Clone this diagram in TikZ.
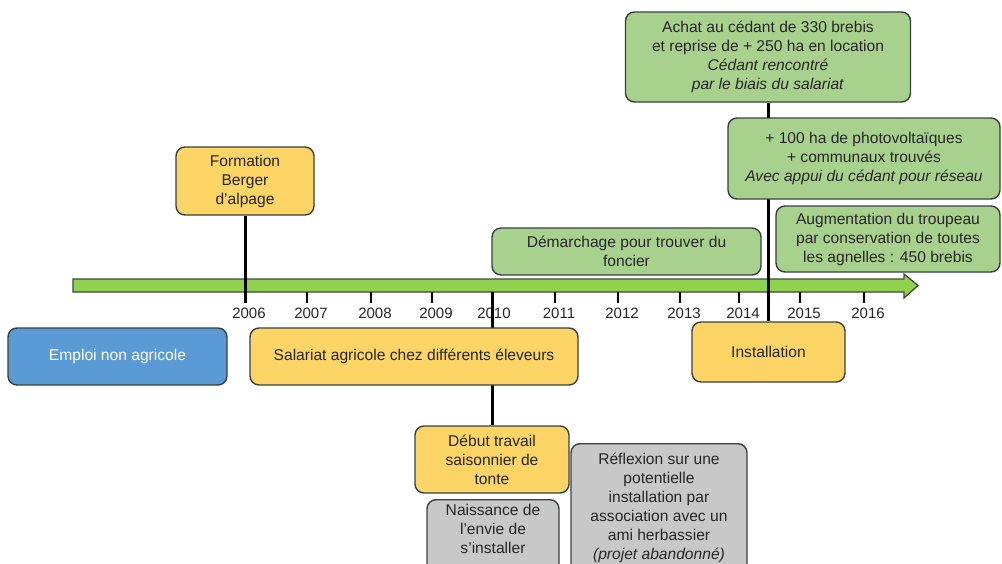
\documentclass[tikz,border=0pt]{standalone}
\usepackage{fontspec}
\setmainfont{Liberation Sans}
\pgfdeclarelayer{back}
\pgfdeclarelayer{mid}
\pgfsetlayers{back,mid,main}
\begin{document}
\begin{tikzpicture}[x=1pt,y=-1pt,
  box/.style={draw=boxborder, line width=1.4pt, rounded corners=9pt, align=center,
    text=textgray, inner sep=2pt, font=\fontsize{15.6}{19}\selectfont},
  yellowbox/.style={box, fill=boxyellow},
  greenbox/.style={box, fill=boxgreen},
  bluebox/.style={box, fill=boxblue, text=white},
  graybox/.style={box, fill=boxgray},
  link/.style={line width=3pt, black},
  tick/.style={line width=2.8pt, black},
  year/.style={font=\fontsize{15}{18}\selectfont, text=textgray, inner sep=0pt}
]
\definecolor{boxborder}{HTML}{3A4040}
\definecolor{textgray}{HTML}{262626}
\definecolor{boxyellow}{HTML}{FCD566}
\definecolor{boxgreen}{HTML}{A9D18E}
\definecolor{boxblue}{HTML}{5B9BD5}
\definecolor{boxgray}{HTML}{C8C8C8}
\definecolor{shaftgreen}{HTML}{92D050}
\definecolor{shaftborder}{HTML}{3D4A40}

\useasboundingbox (0,0) rectangle (1002,563);
\begin{pgfonlayer}{back}
\fill[white] (0,0) rectangle (1002,563);
% timeline arrow
\draw[fill=shaftgreen, draw=shaftborder, line width=1.3pt, line join=miter]
  (73,279) -- (904,279) -- (904,274) -- (918,285.5) -- (904,298) -- (904,292) -- (73,292) -- cycle;
% ticks and years
\foreach \yr/\x/\dx in {2006/245/4,2007/307/4,2008/371/4,2009/432/4,2010/493/1,2011/555/4,2012/618/4,2013/680/4,2014/739/4,2015/800/4,2016/864/4}{
  \coordinate (t\yr) at (\x,292);
  \coordinate (b\yr) at (\x,303);
  \draw[tick] (t\yr) -- (b\yr);
  \node[year] (y\yr) at (\x+\dx,313) {\yr};
}
\end{pgfonlayer}

\begin{scope}
\clip (0,0) rectangle (1002,563);
% boxes
\node[yellowbox, minimum width=138pt, minimum height=68pt] (formation) at (245,181)
  {Formation\\Berger\\d’alpage};
\node[bluebox, minimum width=219pt, minimum height=57pt] (emploi) at (117.5,356.5)
  {Emploi non agricole};
\node[yellowbox, minimum width=328pt, minimum height=57pt] (salariat) at (414,356.5)
  {Salariat agricole chez différents éleveurs};
\node[yellowbox, minimum width=153pt, minimum height=60pt] (install) at (768.5,352)
  {Installation};
\node[greenbox, minimum width=269pt, minimum height=47pt] (demarchage) at (626.5,251.5)
  {Démarchage pour trouver du\\foncier};
\node[greenbox, minimum width=285pt, minimum height=90pt] (achat) at (768,57)
  {Achat au cédant de 330 brebis\\et reprise de + 250 ha en location\\\textit{Cédant rencontré}\\\textit{par le biais du salariat}};
\node[greenbox, minimum width=272pt, minimum height=81pt] (photo) at (864,158.5)
  {+ 100 ha de photovoltaïques\\+ communaux trouvés\\\textit{Avec appui du cédant pour réseau}};
\node[greenbox, minimum width=224pt, minimum height=66pt] (augment) at (888,239)
  {Augmentation du troupeau\\par conservation de toutes\\les agnelles : 450 brebis};
\node[yellowbox, minimum width=154pt, minimum height=67pt] (debut) at (492,459.5)
  {Début travail\\saisonnier de\\tonte};
\node[graybox, minimum width=132pt, anchor=north, inner sep=4pt] (naissance) at (493,499)
  {Naissance de\\l’envie de\\s’installer\\[6pt]};
\node[graybox, minimum width=176pt, anchor=north, inner xsep=6pt, inner ysep=9pt] (reflexion) at (659,443)
  {Réflexion sur une\\potentielle\\installation par\\association avec un\\ami herbassier\\\textit{(projet abandonné)}\\[6pt]};
\end{scope}

% connectors, behind the boxes but over the timeline
\begin{pgfonlayer}{mid}
\draw[link] (formation.south) -- (formation.south |- b2006);
\draw[link] (t2010 -| debut.north) -- (debut.north);
\draw[link] (achat.south) -- (achat.south |- install.north);
\end{pgfonlayer}
\end{tikzpicture}
\end{document}
